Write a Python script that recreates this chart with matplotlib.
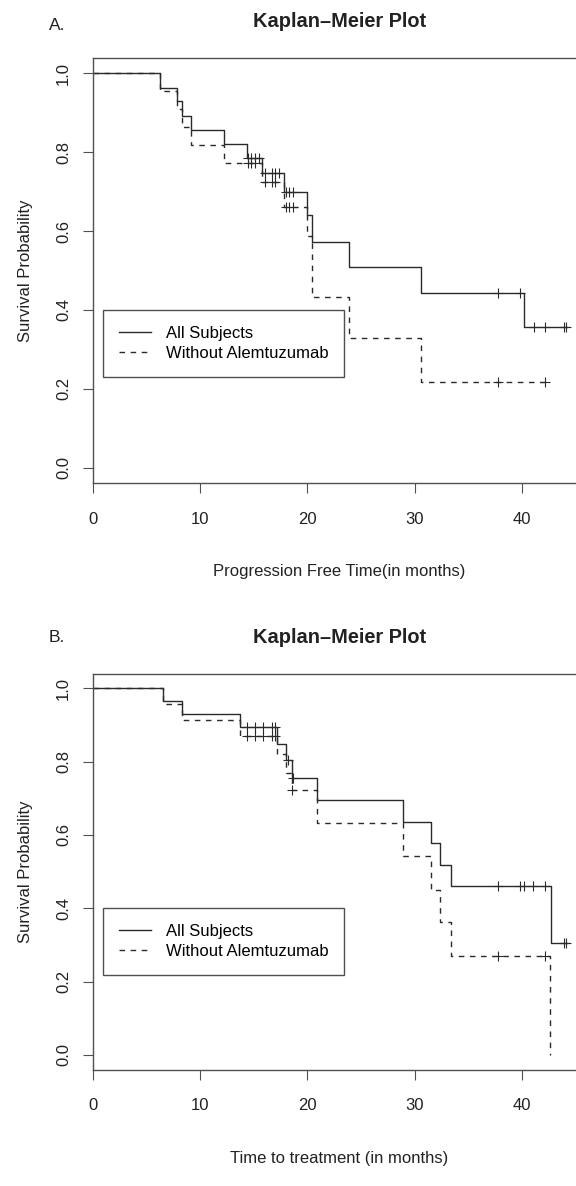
import numpy as np
import matplotlib
matplotlib.use("Agg")
from matplotlib import pyplot as plt
from matplotlib.ticker import FormatStrFormatter

plt.rcParams['font.family'] = ['Liberation Sans', 'DejaVu Sans']
plt.rcParams['font.size'] = 12

# A. progression free time, all subjects
pfs_all_t = [0, 6.3, 7.9, 8.3, 9.2, 12.25, 14.4, 15.76, 17.8, 19.95, 20.4, 23.9, 30.6, 40.2]
pfs_all_s = [1.0, 0.964, 0.929, 0.893, 0.857, 0.821, 0.786, 0.747, 0.700, 0.640, 0.572, 0.508, 0.444, 0.356]
pfs_all_cens = [14.5, 14.8, 15.1, 15.5, 16.1, 16.7, 17.0, 17.4, 18.0, 18.3, 18.7,
                37.8, 39.8, 41.1, 42.2, 43.9, 44.1]
pfs_all_end = 44.2

# A. progression free time, without alemtuzumab
pfs_wo_t = [0, 6.3, 7.9, 8.3, 9.2, 12.25, 15.76, 17.8, 19.95, 20.4, 23.9, 30.6]
pfs_wo_s = [1.0, 0.955, 0.909, 0.864, 0.818, 0.773, 0.725, 0.662, 0.588, 0.434, 0.329, 0.216]
pfs_wo_cens = [14.5, 14.8, 15.1, 16.1, 16.7, 17.0, 18.0, 18.3, 18.7, 37.8, 42.2]
pfs_wo_end = 42.3

# B. time to treatment, all subjects
ttt_all_t = [0, 6.6, 8.3, 13.7, 17.2, 18.0, 18.55, 20.9, 28.9, 31.5, 32.4, 33.4, 42.7]
ttt_all_s = [1.0, 0.964, 0.929, 0.893, 0.849, 0.804, 0.754, 0.695, 0.635, 0.578, 0.518, 0.461, 0.306]
ttt_all_cens = [14.4, 15.1, 15.9, 16.7, 17.0, 18.2, 18.7, 37.8, 39.8, 40.2, 41.0, 42.2, 43.9, 44.1]
ttt_all_end = 44.2

# B. time to treatment, without alemtuzumab
ttt_wo_t = [0, 6.6, 8.3, 13.7, 17.2, 18.0, 18.55, 20.9, 28.9, 31.5, 32.4, 33.4, 42.6]
ttt_wo_s = [1.0, 0.957, 0.913, 0.870, 0.82, 0.77, 0.722, 0.633, 0.541, 0.450, 0.361, 0.270, 0.0]
ttt_wo_cens = [14.4, 15.1, 15.9, 16.7, 17.0, 18.6, 37.8, 42.2]
ttt_wo_end = 42.6

legend_labels = ['All Subjects', 'Without Alemtuzumab']
line_col = '#2a2a2a'
axis_col = '#505050'


def km_curve(ax, t, s, cens, end, ls, label):
    t = np.append(t, end)
    s = np.append(s, s[-1])
    ax.step(t, s, where='post', color=line_col, lw=1.0, ls=ls, label=label)
    idx = np.searchsorted(t, cens, side='right') - 1
    ax.plot(cens, s[idx], ls='none', marker='+', ms=7.5, mew=0.8, color=line_col)


def panel(ax, curves, xlabel, xlab_y):
    for t, s, cens, end, ls, label in curves:
        km_curve(ax, t, s, cens, end, ls, label)
    ax.set_xlim(0, 46)
    ax.set_ylim(-0.04, 1.04)
    ax.set_xticks([0, 10, 20, 30, 40])
    ax.set_yticks([0.0, 0.2, 0.4, 0.6, 0.8, 1.0])
    ax.yaxis.set_major_formatter(FormatStrFormatter('%.1f'))
    ax.tick_params(direction='out', length=7.5, width=0.8, color=axis_col, labelcolor='#222')
    ax.tick_params(axis='x', pad=13)
    ax.tick_params(axis='y', pad=8, labelrotation=90)
    for lab in ax.get_yticklabels():
        lab.set_va('center')
    for sp in ax.spines.values():
        sp.set_color(axis_col)
        sp.set_linewidth(1.0)
    ax.set_title('Kaplan–Meier Plot', fontsize=14.4, fontweight='bold', pad=22, color='#222')
    ax.set_xlabel(xlabel, color='#222')
    ax.xaxis.set_label_coords(0.5, xlab_y)
    ax.set_ylabel('Survival Probability', color='#222', va='center')
    ax.yaxis.set_label_coords(-0.135, 0.5)
    leg = ax.legend(loc='upper left', bbox_to_anchor=(1, 0.4), bbox_transform=ax.transData,
                    borderaxespad=0, frameon=True, fancybox=False, framealpha=1,
                    edgecolor=axis_col, handlelength=1.9, handletextpad=0.9,
                    labelspacing=0.31, borderpad=0.95)
    leg.get_frame().set_linewidth(1.0)


fig = plt.figure(figsize=(5.76, 11.86), dpi=100)
ax_a = fig.add_axes([0.1608, 0.5924, 0.857, 0.359])
ax_b = fig.add_axes([0.1608, 0.0982, 0.857, 0.3339])

panel(ax_a, [(pfs_all_t, pfs_all_s, pfs_all_cens, pfs_all_end, '-', legend_labels[0]),
             (pfs_wo_t, pfs_wo_s, pfs_wo_cens, pfs_wo_end, (0, (4, 4)), legend_labels[1])],
      'Progression Free Time(in months)', -0.19)
panel(ax_b, [(ttt_all_t, ttt_all_s, ttt_all_cens, ttt_all_end, '-', legend_labels[0]),
             (ttt_wo_t, ttt_wo_s, ttt_wo_cens, ttt_wo_end, (0, (4, 4)), legend_labels[1])],
      'Time to treatment (in months)', -0.205)

fig.text(57 / 576, 1 - 25 / 1186, 'A.', ha='center', va='center', fontsize=12.5, color='#222')
fig.text(57 / 576, 1 - 638 / 1186, 'B.', ha='center', va='center', fontsize=12.5, color='#222')

fig.savefig('out.png', dpi=100)
